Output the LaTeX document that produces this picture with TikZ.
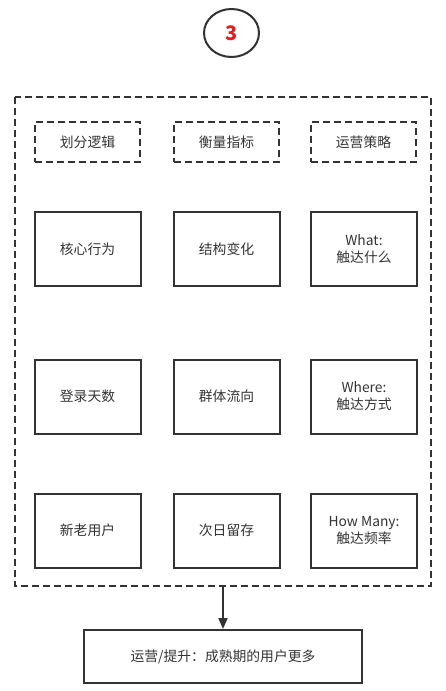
\documentclass[tikz,border=0pt]{standalone}
\usepackage{fontspec}
\setmainfont{Noto Sans CJK SC}
\usetikzlibrary{arrows.meta,shapes.geometric}
\definecolor{ln}{HTML}{333333}
\definecolor{tx}{HTML}{333333}
\definecolor{rd}{HTML}{E02020}
\tikzset{
  every node/.style={font=\fontsize{13.8}{17}\selectfont, text=tx},
  dbox/.style={draw=ln, line width=2pt, dash pattern=on 7pt off 4pt, minimum width=105pt, minimum height=40pt, inner sep=0pt},
  sbox/.style={draw=ln, line width=2pt, minimum width=106pt, minimum height=74pt, inner sep=0pt, align=center},
  outer/.style={draw=ln, line width=2pt, dash pattern=on 7pt off 4pt},
}
\begin{document}
\begin{tikzpicture}[x=1pt,y=-1pt]
\useasboundingbox (0,0) rectangle (445,691);
\node[draw=ln, line width=2pt, ellipse, minimum width=55pt, minimum height=48pt, inner sep=0pt, font=\fontsize{20}{22}\selectfont\bfseries, text=rd] (num) at (231.5,33) {3};
\draw[outer] (15,97) rectangle (431,586);
\coordinate (ob) at (223,586);
\node[dbox] (h1) at (87.5,142) {划分逻辑};
\node[dbox] (h2) at (226.5,142) {衡量指标};
\node[dbox] (h3) at (363.5,142) {运营策略};
\node[sbox] (a1) at (87.5,249) {核心行为};
\node[sbox] (a2) at (226.5,249) {结构变化};
\node[sbox] (a3) at (364,249) {What:\\触达什么};
\node[sbox] (b1) at (87.5,396.5) {登录天数};
\node[sbox] (b2) at (226.5,396.5) {群体流向};
\node[sbox] (b3) at (364,396.5) {Where:\\触达方式};
\node[sbox] (c1) at (87.5,530.5) {新老用户};
\node[sbox] (c2) at (226.5,530.5) {次日留存};
\node[sbox] (c3) at (364,530.5) {How Many:\\触达频率};
\node[draw=ln, line width=2pt, minimum width=278pt, minimum height=53pt, inner sep=0pt] (res) at (223,656.5) {运营/提升：成熟期的用户更多};
\draw[draw=ln, line width=2pt, -{Triangle[length=11pt,width=9pt]}] (ob) -- (res.north);
\end{tikzpicture}
\end{document}
